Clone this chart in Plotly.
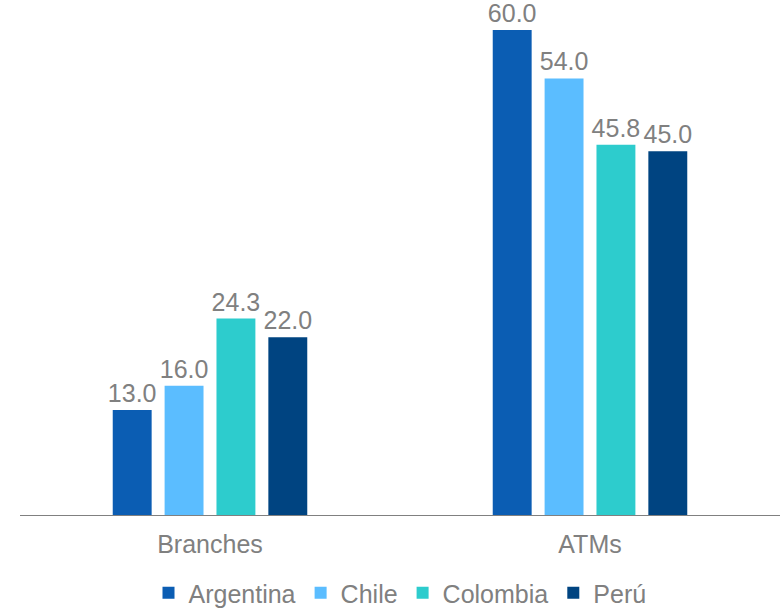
import plotly.graph_objects as go

categories = ["Branches", "ATMs"]
series_names = ["Argentina", "Chile", "Colombia", "Perú"]
argentina = [13.0, 60.0]
chile = [16.0, 54.0]
colombia = [24.3, 45.8]
peru = [22.0, 45.0]
colors = ["#0B5DB3", "#5BBDFF", "#2DCCCD", "#004481"]

FONT = "Liberation Sans, Arial, sans-serif"
GRAY = "#808080"

fig = go.Figure()
for name, vals, col in zip(series_names, [argentina, chile, colombia, peru], colors):
    fig.add_trace(go.Bar(
        name=name, x=categories, y=vals, marker_color=col, marker_line_width=0,
        text=[f"{v:.1f}" for v in vals], textposition="outside",
        constraintext="none",
        textfont=dict(family=FONT, size=25, color=GRAY),
        cliponaxis=False,
    ))

fig.update_layout(
    width=780, height=608,
    margin=dict(l=20, r=0, t=0, b=93, autoexpand=False),
    paper_bgcolor="white", plot_bgcolor="white",
    barmode="group", bargap=0.454, bargroupgap=0.25,
    font=dict(family=FONT, color=GRAY),
    showlegend=True,
    legend=dict(orientation="h", x=0.5, xanchor="center",
                yref="container", y=15 / 608, yanchor="middle",
                font=dict(size=25, color=GRAY), itemwidth=30, traceorder="normal"),
    xaxis=dict(showline=True, linecolor=GRAY, linewidth=1, ticks="",
               tickfont=dict(size=25, color=GRAY), ticklabelstandoff=7,
               showgrid=False, automargin=False),
    yaxis=dict(range=[0, 63.7], visible=False, showgrid=False, automargin=False),
)

fig.write_html("out.html", config={"displayModeBar": False},
               post_script="document.body.style.margin='0';")
